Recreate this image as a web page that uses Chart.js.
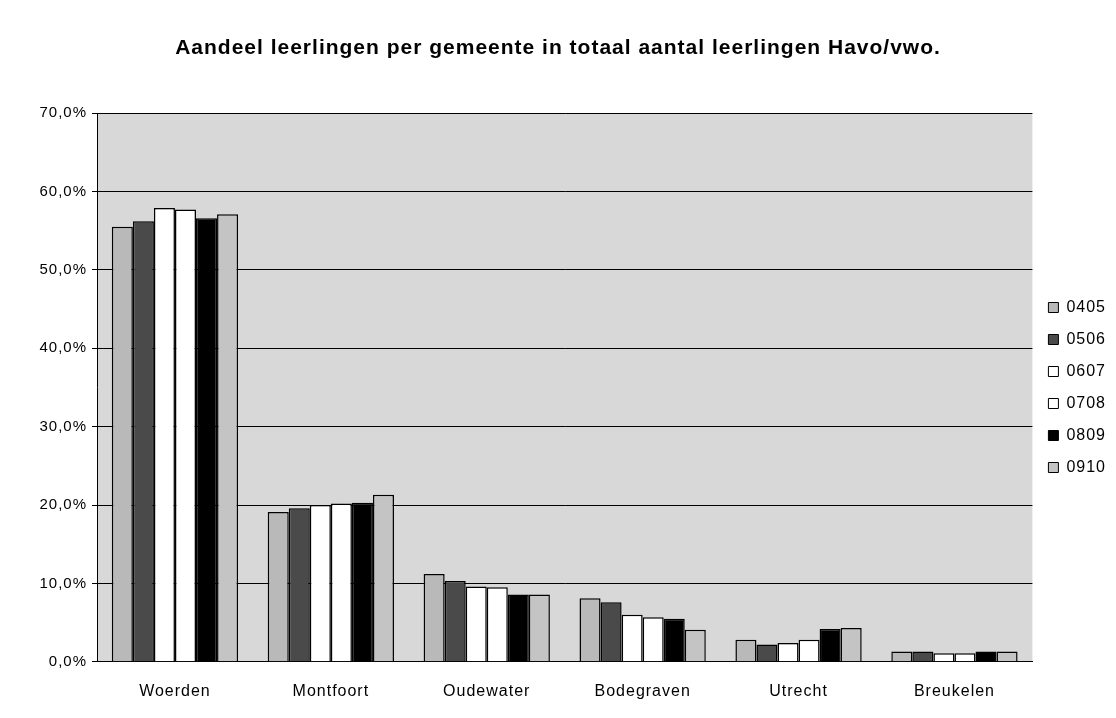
<!DOCTYPE html>
<html>
<head>
<meta charset="utf-8">
<script src="https://cdn.jsdelivr.net/npm/chart.js@4"></script>
<style>
  body { margin: 0; background: #fff; }
  #wrap { width: 1116px; height: 718px; }
</style>
</head>
<body>
<div id="wrap"><canvas id="myChart" width="1116" height="718"></canvas></div>
<script>
//! DATA
const gemeenten = ['Woerden', 'Montfoort', 'Oudewater', 'Bodegraven', 'Utrecht', 'Breukelen'];
const jaren = ['0405', '0506', '0607', '0708', '0809', '0910'];

//* percentage per schooljaar (per gemeente, same order as gemeenten)
const s0405 = [55.5, 19.1, 11.2, 8.1, 2.8, 1.3];
const s0506 = [56.2, 19.6, 10.3, 7.6, 2.2, 1.3];
const s0607 = [57.9, 20.0, 9.6, 6.0, 2.4, 1.1];
const s0708 = [57.7, 20.2, 9.5, 5.7, 2.8, 1.1];
const s0809 = [56.6, 20.3, 8.6, 5.5, 4.2, 1.3];
const s0910 = [57.1, 21.3, 8.6, 4.1, 4.3, 1.3];

const yTicks = [0, 10, 20, 30, 40, 50, 60, 70];

//* colours
const kleuren = ['#b9b9b9', '#4a4a4a', '#ffffff', '#ffffff', '#000000', '#c4c4c4'];
const reeksen = [s0405, s0506, s0607, s0708, s0809, s0910];

const FONT = 'Arial, "Liberation Sans", sans-serif';

//! CHART JS CONFIG
const data = {
    labels: gemeenten,
    datasets: jaren.map(function (jaar, i) {
        return {
            label: jaar,
            data: reeksen[i],
            backgroundColor: kleuren[i],
            borderColor: '#000000',
            borderWidth: 1.5,
            borderSkipped: 'bottom'
        };
    })
};

//* grey plot area + slightly wider letters (like the old excel print)
const plotBg = {
    id: 'plotBg',
    beforeUpdate(chart) {
        chart.ctx.letterSpacing = '1px';
    },
    beforeDraw(chart) {
        const { ctx, chartArea: a } = chart;
        ctx.letterSpacing = '1px';
        ctx.save();
        ctx.fillStyle = '#d8d8d8';
        ctx.fillRect(a.left, a.top, a.right - a.left, a.bottom - a.top);
        ctx.restore();
    }
};

const config = {
    type: 'bar',
    data,
    plugins: [plotBg],
    options: {
        responsive: false,
        animation: false,
        datasets: {
            bar: { categoryPercentage: 0.81, barPercentage: 1.0 }
        },
        layout: {
            padding: { left: 0, right: 0, top: 14, bottom: 5 }
        },
        plugins: {
            title: {
                display: true,
                text: 'Aandeel leerlingen per gemeente in totaal aantal leerlingen Havo/vwo.',
                color: '#000',
                font: { family: FONT, size: 21, weight: 'bold' },
                padding: { top: 22, bottom: 52 }
            },
            legend: {
                position: 'right',
                align: 'center',
                fullSize: false,
                labels: {
                    color: '#000',
                    boxWidth: 10,
                    boxHeight: 10,
                    padding: 16,
                    font: { family: FONT, size: 16 },
                    generateLabels(chart) {
                        return chart.data.datasets.map(function (ds, i) {
                            return {
                                text: ds.label,
                                fillStyle: ds.backgroundColor,
                                strokeStyle: '#000',
                                lineWidth: 1,
                                datasetIndex: i
                            };
                        });
                    }
                }
            },
            tooltip: { enabled: false }
        },
        scales: {
            x: {
                grid: { display: false },
                border: { color: '#000', width: 1 },
                ticks: {
                    color: '#000',
                    padding: 12,
                    font: { family: FONT, size: 16 }
                }
            },
            y: {
                min: 0,
                max: 70,
                afterBuildTicks(axis) {
                    axis.ticks = yTicks.map(v => ({ value: v }));
                },
                afterFit(axis) {
                    axis.width = 97;
                },
                grid: { color: '#000', lineWidth: 1, drawTicks: true, tickLength: 5 },
                border: { color: '#000', width: 1 },
                ticks: {
                    color: '#000',
                    padding: 5,
                    font: { family: FONT, size: 15 },
                    callback: function (value) {
                        return value.toFixed(1).replace('.', ',') + '%';
                    }
                }
            }
        }
    }
};

//! CREATE CHART
const myChart = new Chart(document.getElementById('myChart'), config);
</script>
</body>
</html>
